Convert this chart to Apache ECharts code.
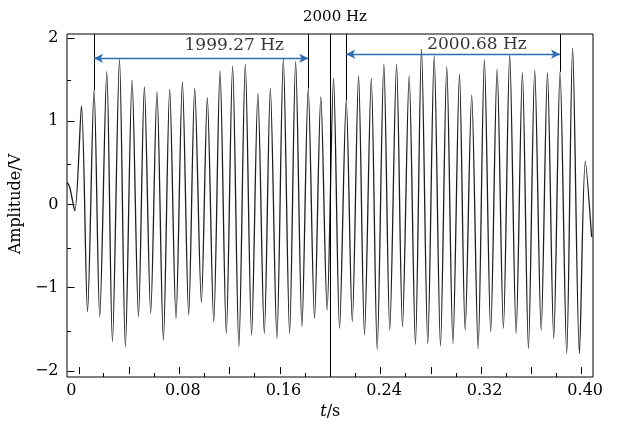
<!DOCTYPE html>
<html>
<head>
<meta charset="utf-8">
<script src="https://cdn.jsdelivr.net/npm/echarts@6/dist/echarts.min.js"></script>
<style>html,body{margin:0;padding:0;background:#fff}#c{width:619px;height:425px}</style>
</head>
<body>
<div id="c"></div>
<script>
// waveform samples (time in s, amplitude in V)
const timeS = [
  -0.0088, -0.0068, -0.0028,
  0.0025, 0.0073, 0.0125, 0.0170, 0.0226, 0.0271, 0.0327, 0.0374, 0.0427, 0.0478,
  0.0525, 0.0575, 0.0625, 0.0676, 0.0726, 0.0776, 0.0827, 0.0877, 0.0925, 0.0978,
  0.1025, 0.1076, 0.1126, 0.1176, 0.1226, 0.1276, 0.1327, 0.1377, 0.1427, 0.1478,
  0.1526, 0.1578, 0.1629, 0.1679, 0.1727, 0.1777, 0.1827, 0.1877, 0.1927, 0.1977,
  0.2028, 0.2076, 0.2129, 0.2177, 0.2227, 0.2274, 0.2328, 0.2375, 0.2428, 0.2475,
  0.2529, 0.2576, 0.2629, 0.2679, 0.2727, 0.2777, 0.2828, 0.2878, 0.2928, 0.2977,
  0.3029, 0.3074, 0.3126, 0.3177, 0.3227, 0.3277, 0.3328, 0.3378, 0.3428, 0.3479,
  0.3529, 0.3577, 0.3627, 0.3678, 0.3728, 0.3778, 0.3828, 0.3881, 0.3928, 0.3982,
  0.4029, 0.4079
];
const amplitudeV = [
  0.28, 0.22, -0.06,
  1.19, -1.26, 1.38, -1.32, 1.60, -1.62, 1.75, -1.68, 1.50, -1.32,
  1.42, -1.28, 1.36, -1.60, 1.39, -1.34, 1.48, -1.30, 1.40, -1.15,
  1.29, -1.38, 1.61, -1.52, 1.67, -1.68, 1.69, -1.54, 1.34, -1.52,
  1.40, -1.58, 1.75, -1.52, 1.72, -1.44, 1.40, -1.34, 1.30, -1.24,
  1.52, -1.46, 1.26, -1.38, 1.55, -1.54, 1.52, -1.71, 1.69, -1.48,
  1.69, -1.44, 1.55, -1.65, 1.87, -1.64, 1.79, -1.67, 1.66, -1.64,
  1.57, -1.48, 1.32, -1.70, 1.74, -1.50, 1.63, -1.46, 1.80, -1.52,
  1.59, -1.70, 1.62, -1.48, 1.59, -1.58, 1.60, -1.76, 1.88, -1.76,
  0.53, -0.37
];
// axis ticks
const xMajorTicks = [0, 0.04, 0.08, 0.12, 0.16, 0.20, 0.24, 0.28, 0.32, 0.36, 0.40];
const xMinorTicks = [0.02, 0.06, 0.10, 0.14, 0.18, 0.22, 0.26, 0.30, 0.34, 0.38];
const xTickLabels = [0, 0.08, 0.16, 0.24, 0.32, 0.40];
const yMajorTicks = [-2, -1, 0, 1, 2];
const yMinorTicks = [-1.5, -0.5, 0.5, 1.5];
// annotations
const markerTimes = [0.0125, 0.1827, 0.2129, 0.3828];
const markerPeaks = [1.38, 1.40, 1.26, 1.60];
const splitTime = [0.2002];
const spanStart = [0.0125, 0.2129];
const spanEnd = [0.1827, 0.3828];
const spanLevel = [1.76, 1.81];
const freqLabels = ['1999.27 Hz', '2000.68 Hz'];
const freqLabelT = [0.1239, 0.3168];
const freqLabelV = [1.91, 1.92];

const X_MIN = -0.009, X_MAX = 0.409, Y_MIN = -2.04, Y_MAX = 2.05;
const FONT = 'DejaVu Serif';
const gridRect = {left: 67, right: 26, top: 34, bottom: 48};

function fmt(v) {
  if (Math.abs(v) < 1e-9) return '{z|0}';
  return v.toFixed(2);
}
function fmtY(v) {
  const r = Math.round(v);
  return r < 0 ? '\u2212' + Math.abs(r) : String(r);
}

const chart = echarts.init(document.getElementById('c'), null, {renderer: 'canvas'});

const xBase = {type: 'value', min: X_MIN, max: X_MAX, splitLine: {show: false}, axisLine: {show: false, onZero: false}};
const yBase = {type: 'value', min: Y_MIN, max: Y_MAX, splitLine: {show: false}, axisLine: {show: false, onZero: false}};

const waveData = timeS.map((t, i) => [t, amplitudeV[i]]);

const vLines = markerTimes.map((t, i) => [{coord: [t, Y_MAX]}, {coord: [t, markerPeaks[i]]}]);
splitTime.forEach(t => vLines.push([{coord: [t, Y_MAX]}, {coord: [t, Y_MIN]}]));

const arrows = spanStart.map((s, i) => [{coord: [s, spanLevel[i]]}, {coord: [spanEnd[i], spanLevel[i]]}]);

chart.setOption({
  animation: false,
  title: {
    text: '2000 Hz', left: 330, top: 5, textAlign: 'center',
    textStyle: {fontFamily: FONT, fontSize: 15, fontWeight: 'normal', color: '#000'}
  },
  grid: [
    Object.assign({show: true, borderColor: '#000', borderWidth: 1, backgroundColor: 'transparent'}, gridRect),
    Object.assign({}, gridRect),
    Object.assign({}, gridRect)
  ],
  xAxis: [
    Object.assign({}, xBase, {gridIndex: 0, axisTick: {show: false}, axisLabel: {show: false}}),
    Object.assign({}, xBase, {
      gridIndex: 1, position: 'bottom',
      axisTick: {show: true, inside: true, length: 7, customValues: xMajorTicks, lineStyle: {color: '#000'}},
      axisLabel: {show: true, customValues: xTickLabels, formatter: fmt, margin: 9,
        fontFamily: FONT, fontSize: 16, color: '#000', padding: [0, 0, 0, 7],
        rich: {z: {fontFamily: FONT, fontSize: 16, color: '#000', padding: [0, 22, 0, 0]}}},
      name: '{i|t}/s', nameLocation: 'middle', nameGap: 26,
      nameTextStyle: {fontFamily: FONT, fontSize: 16, color: '#000',
        rich: {i: {fontFamily: FONT, fontStyle: 'italic', fontSize: 16, color: '#000'}}}
    }),
    Object.assign({}, xBase, {
      gridIndex: 2, position: 'bottom',
      axisTick: {show: true, inside: true, length: 4, customValues: xMinorTicks, lineStyle: {color: '#000'}},
      axisLabel: {show: false}
    })
  ],
  yAxis: [
    Object.assign({}, yBase, {gridIndex: 0, axisTick: {show: false}, axisLabel: {show: false}}),
    Object.assign({}, yBase, {
      gridIndex: 1, position: 'left',
      axisTick: {show: true, inside: true, length: 7, customValues: yMajorTicks, lineStyle: {color: '#000'}},
      axisLabel: {show: true, customValues: yMajorTicks, formatter: fmtY, margin: 9,
        fontFamily: FONT, fontSize: 16, color: '#000'},
      name: 'Amplitude/V', nameLocation: 'middle', nameGap: 38,
      nameTextStyle: {fontFamily: FONT, fontSize: 16, color: '#000'}
    }),
    Object.assign({}, yBase, {
      gridIndex: 2, position: 'left',
      axisTick: {show: true, inside: true, length: 4, customValues: yMinorTicks, lineStyle: {color: '#000'}},
      axisLabel: {show: false}
    })
  ],
  series: [
    {
      type: 'line', xAxisIndex: 0, yAxisIndex: 0,
      data: waveData, showSymbol: false, smooth: 0.3,
      lineStyle: {color: '#1e1e1e', width: 1.3},
      markLine: {
        silent: true, symbol: ['none', 'none'],
        lineStyle: {color: '#000', width: 1, type: 'solid'},
        label: {show: false},
        data: vLines
      },
      z: 3
    },
    {
      type: 'line', xAxisIndex: 0, yAxisIndex: 0, data: [],
      markLine: {
        silent: true, symbol: ['arrow', 'arrow'], symbolSize: [7, 9],
        lineStyle: {color: '#2f6cb5', width: 1.3, type: 'solid'},
        label: {show: false},
        data: arrows
      },
      z: 4
    },
    {
      type: 'scatter', xAxisIndex: 0, yAxisIndex: 0, symbolSize: 0,
      data: freqLabels.map((s, i) => ({name: s, value: [freqLabelT[i], freqLabelV[i]]})),
      label: {show: true, position: 'inside', formatter: p => p.name,
        fontFamily: FONT, fontSize: 17, color: '#000'},
      z: 5
    }
  ]
});
</script>
</body>
</html>
